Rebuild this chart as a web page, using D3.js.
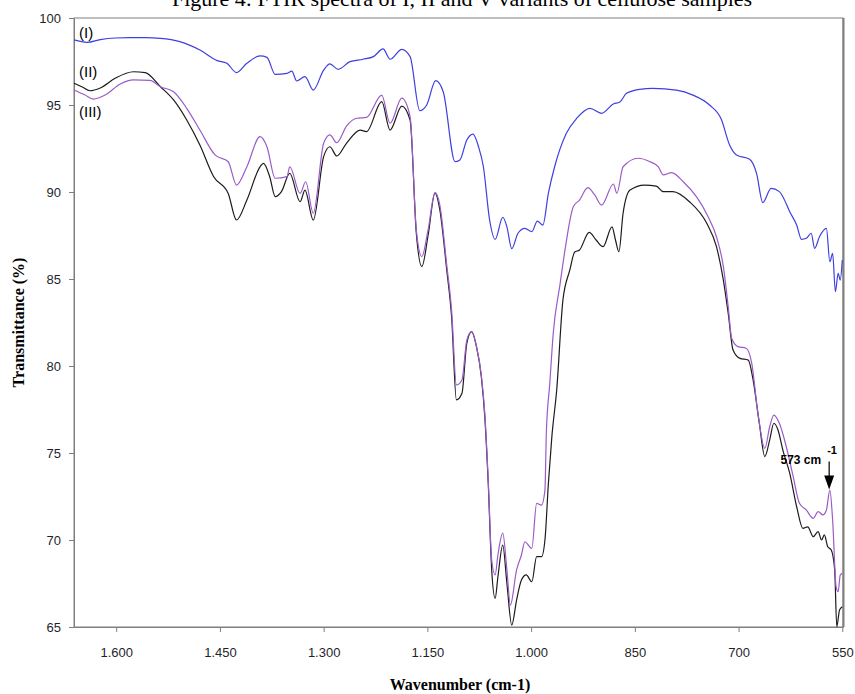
<!DOCTYPE html>
<html>
<head>
<meta charset="utf-8">
<script src="https://cdn.jsdelivr.net/npm/d3@7"></script>
<style>
  body { margin: 0; background: #fff; }
  svg { display: block; }
  .tick text { font-family: "Liberation Sans", Arial, sans-serif; font-size: 13px; fill: #1f1f2a; }
  .axisTitle { font-family: "Liberation Serif", "Times New Roman", serif; font-weight: bold; font-size: 16px; fill: #000; }
</style>
</head>
<body>
<div id="chart"></div>
<script>
var width = 855;
var height = 694;

// wavenumber (cm-1) / transmittance (%)
var wnI = [1661,1642,1623,1601,1580,1558,1536,1508,1479,1454,1440,1426,1411,1392,1382,1370,1353,1346,1339,1327,1315,1300,1291,1279,1262,1243,1228,1214,1204,1187,1175,1161,1151,1138,1127,1110,1103,1093,1084,1076,1069,1060,1052,1041,1035,1028,1019,1009,999,991,983,975,966,949,934,915,898,881,872,862,843,824,790,766,742,725,713,703,684,674,665,653,641,636,626,616,609,602,595,590,583,573,568,564,560,556,553,550];
var tI  = [98.74,98.60,98.76,98.85,98.87,98.87,98.83,98.64,98.16,97.55,97.40,96.86,97.40,97.82,97.74,96.76,96.82,96.95,96.38,96.63,95.86,97.01,97.36,97.05,97.49,97.63,97.78,98.22,97.63,98.20,97.78,94.67,95.00,96.40,95.75,91.74,91.84,92.99,93.33,92.60,91.45,88.39,87.28,88.55,88.00,86.74,87.63,87.91,87.72,88.33,88.10,89.93,91.45,93.37,94.24,94.81,94.52,95.06,95.16,95.67,95.90,95.96,95.86,95.57,95.00,94.18,92.70,92.13,91.88,91.07,89.39,90.21,90.02,89.73,88.87,88.10,87.28,87.34,87.63,86.76,87.43,87.91,85.99,86.48,84.27,85.33,84.94,86.09];

var wnII = [1661,1649,1638,1623,1601,1575,1558,1536,1517,1498,1479,1459,1438,1426,1411,1392,1387,1378,1370,1361,1349,1334,1327,1315,1300,1291,1281,1267,1247,1238,1216,1204,1187,1175,1166,1158,1149,1139,1132,1122,1115,1108,1100,1093,1086,1079,1072,1067,1062,1057,1052,1048,1041,1035,1028,1021,1014,1007,999,992,985,980,975,970,963,954,944,937,930,916,906,896,883,878,873,867,857,836,819,809,795,771,746,732,722,715,708,698,686,679,670,662,655,649,643,636,626,616,607,600,592,585,580,576,571,566,561,558,554,550];
var tII  = [96.25,96.03,95.82,95.98,96.55,96.91,96.86,96.05,95.29,94.14,92.70,90.88,89.92,88.39,89.54,91.45,91.65,90.88,89.73,90.02,91.07,89.44,90.11,88.39,92.03,92.60,92.07,92.80,93.56,93.47,95.19,93.56,94.94,94.14,87.63,85.71,87.50,89.93,88.97,85.52,82.83,78.05,78.43,81.30,81.97,81.11,79.38,77.09,73.26,68.28,66.65,67.89,69.71,67.51,65.11,66.55,67.70,67.99,67.60,69.04,69.04,70.00,73.26,75.94,78.62,83.79,85.52,86.55,86.67,87.68,87.24,86.86,88.00,87.24,86.57,88.78,90.11,90.40,90.34,90.02,90.02,89.44,88.20,86.86,84.94,83.03,80.92,80.44,80.34,79.20,76.71,74.79,75.75,76.71,76.32,75.17,73.83,71.91,70.67,70.76,70.19,70.48,70.00,70.29,69.61,69.43,68.28,65.02,65.98,66.17];

var wnIII = [1661,1645,1633,1616,1594,1575,1551,1536,1517,1498,1479,1457,1438,1426,1411,1392,1382,1370,1353,1349,1334,1326,1315,1300,1291,1281,1267,1252,1238,1216,1204,1187,1175,1166,1158,1149,1139,1132,1122,1115,1108,1100,1093,1086,1079,1072,1067,1062,1057,1052,1048,1041,1035,1030,1021,1014,1009,999,992,985,980,978,973,968,958,951,939,930,918,908,898,881,876,867,845,828,816,809,797,780,761,744,732,722,715,710,701,689,681,672,662,655,649,641,631,621,612,602,592,585,578,573,568,564,559,556,553,550];
var tIII  = [95.86,95.57,95.34,95.57,96.21,96.44,96.41,96.05,95.76,94.81,93.56,92.13,91.74,90.40,91.45,93.18,92.60,90.79,90.88,91.45,89.92,90.59,88.78,92.80,93.28,92.83,93.79,94.24,94.29,95.57,93.95,95.39,94.33,87.82,86.28,87.82,89.96,89.25,85.80,83.22,78.91,79.20,81.49,81.97,81.11,79.48,77.30,73.45,68.85,67.99,69.14,70.39,68.28,66.26,68.28,69.14,69.90,69.52,72.11,72.01,72.87,76.15,79.00,81.88,84.75,86.67,89.15,89.54,90.25,89.83,89.25,90.46,89.92,91.45,91.94,91.74,91.45,90.98,91.11,90.59,89.73,88.58,87.43,85.71,83.41,81.59,81.11,81.02,80.16,77.28,75.27,76.51,77.18,76.71,75.36,73.64,72.11,71.72,71.25,71.63,71.44,71.72,72.87,71.15,67.32,67.03,67.99,68.09];

var seriesNames = ['(I)', '(II)', '(III)'];
var xTicks = [1600, 1450, 1300, 1150, 1000, 850, 700, 550];
var yTicks = [65, 70, 75, 80, 85, 90, 95, 100];
var peakWn = 569;
var peakT = 72.9;

var plotL = 74, plotR = 843, plotT = 18, plotB = 627;

var svg = d3.select('#chart')
    .append('svg')
        .attr('width', width)
        .attr('height', height);

var x = d3.scaleLinear().domain([1661, 549]).range([plotL, plotR]);
var y = d3.scaleLinear().domain([65, 100]).range([plotB, plotT]);

var fmt = d3.formatLocale({ decimal: ',', thousands: '.', grouping: [3], currency: ['', ''] }).format(',d');

// title, mostly cut off at the top edge
svg.append('text')
    .attr('x', 462)
    .attr('y', 6)
    .attr('text-anchor', 'middle')
    .style('font-family', '"Liberation Serif", "Times New Roman", serif')
    .style('font-size', '22px')
    .text('Figure 4: FTIR spectra of I, II and V variants of cellulose samples');

// plot frame
svg.append('rect')
    .attr('x', plotL)
    .attr('y', plotT)
    .attr('width', plotR - plotL)
    .attr('height', plotB - plotT)
    .attr('fill', 'none')
    .attr('stroke', '#7f7f7f')
    .attr('stroke-width', 1);

svg.append('line')
    .attr('x1', plotR + 0.5).attr('x2', plotR + 0.5)
    .attr('y1', plotT).attr('y2', plotB)
    .attr('stroke', '#7f7f7f')
    .attr('stroke-width', 2);

var xAxis = svg.append('g')
    .attr('transform', 'translate(0,' + plotB + ')')
    .call(d3.axisBottom(x).tickValues(xTicks).tickFormat(fmt).tickSize(5).tickSizeOuter(0).tickPadding(16));

var yAxis = svg.append('g')
    .attr('transform', 'translate(' + plotL + ',0)')
    .call(d3.axisLeft(y).tickValues(yTicks).tickSize(5).tickSizeOuter(0).tickPadding(8));

[xAxis, yAxis].forEach(function(a) {
    a.select('.domain').attr('stroke', '#7f7f7f');
    a.selectAll('.tick line').attr('stroke', '#7f7f7f');
});

// spectra
var line = d3.line()
    .x(d => x(d[0]))
    .y(d => y(d[1]))
    .curve(d3.curveMonotoneX);

var spectra = [
    { name: seriesNames[0], wn: wnI, t: tI, color: '#3f3fe0' },
    { name: seriesNames[1], wn: wnII, t: tII, color: '#1c1c1c' },
    { name: seriesNames[2], wn: wnIII, t: tIII, color: '#9a5cc6' }
];

svg.append('g')
    .selectAll('path')
    .data(spectra)
    .enter()
    .append('path')
        .attr('fill', 'none')
        .attr('stroke', d => d.color)
        .attr('stroke-width', 1.2)
        .attr('stroke-linejoin', 'round')
        .attr('d', d => line(d3.zip(d.wn, d.t)));

// series labels
var labelT = [98.85, 96.6, 94.3];
svg.append('g')
    .selectAll('text')
    .data(seriesNames)
    .enter()
    .append('text')
        .attr('x', plotL + 5)
        .attr('y', (d, i) => y(labelT[i]))
        .style('font-family', '"Liberation Sans", Arial, sans-serif')
        .style('font-size', '15px')
        .attr('fill', '#000')
        .text(d => d);

// 573 cm-1 annotation
var ax = x(peakWn);
var ay = y(peakT);
var note = svg.append('g')
    .style('font-family', '"Liberation Sans", Arial, sans-serif')
    .style('font-weight', 'bold');

note.append('text')
    .attr('x', ax - 8)
    .attr('y', ay - 26)
    .attr('text-anchor', 'end')
    .style('font-size', '12px')
    .text('573 cm');

note.append('text')
    .attr('x', ax - 2)
    .attr('y', ay - 36)
    .style('font-size', '11px')
    .text('-1');

note.append('line')
    .attr('x1', ax).attr('x2', ax)
    .attr('y1', ay - 28).attr('y2', ay - 12)
    .attr('stroke', '#000')
    .attr('stroke-width', 1.2);

note.append('path')
    .attr('d', 'M' + (ax - 5) + ',' + (ay - 14) + 'L' + (ax + 5) + ',' + (ay - 14) + 'L' + ax + ',' + ay + 'Z')
    .attr('fill', '#000');

// axis titles
svg.append('text')
    .attr('class', 'axisTitle')
    .attr('transform', 'translate(24,' + ((plotT + plotB) / 2) + ') rotate(-90)')
    .attr('text-anchor', 'middle')
    .text('Transmittance (%)');

svg.append('text')
    .attr('class', 'axisTitle')
    .attr('x', 460)
    .attr('y', 690)
    .attr('text-anchor', 'middle')
    .text('Wavenumber (cm-1)');
</script>
</body>
</html>
